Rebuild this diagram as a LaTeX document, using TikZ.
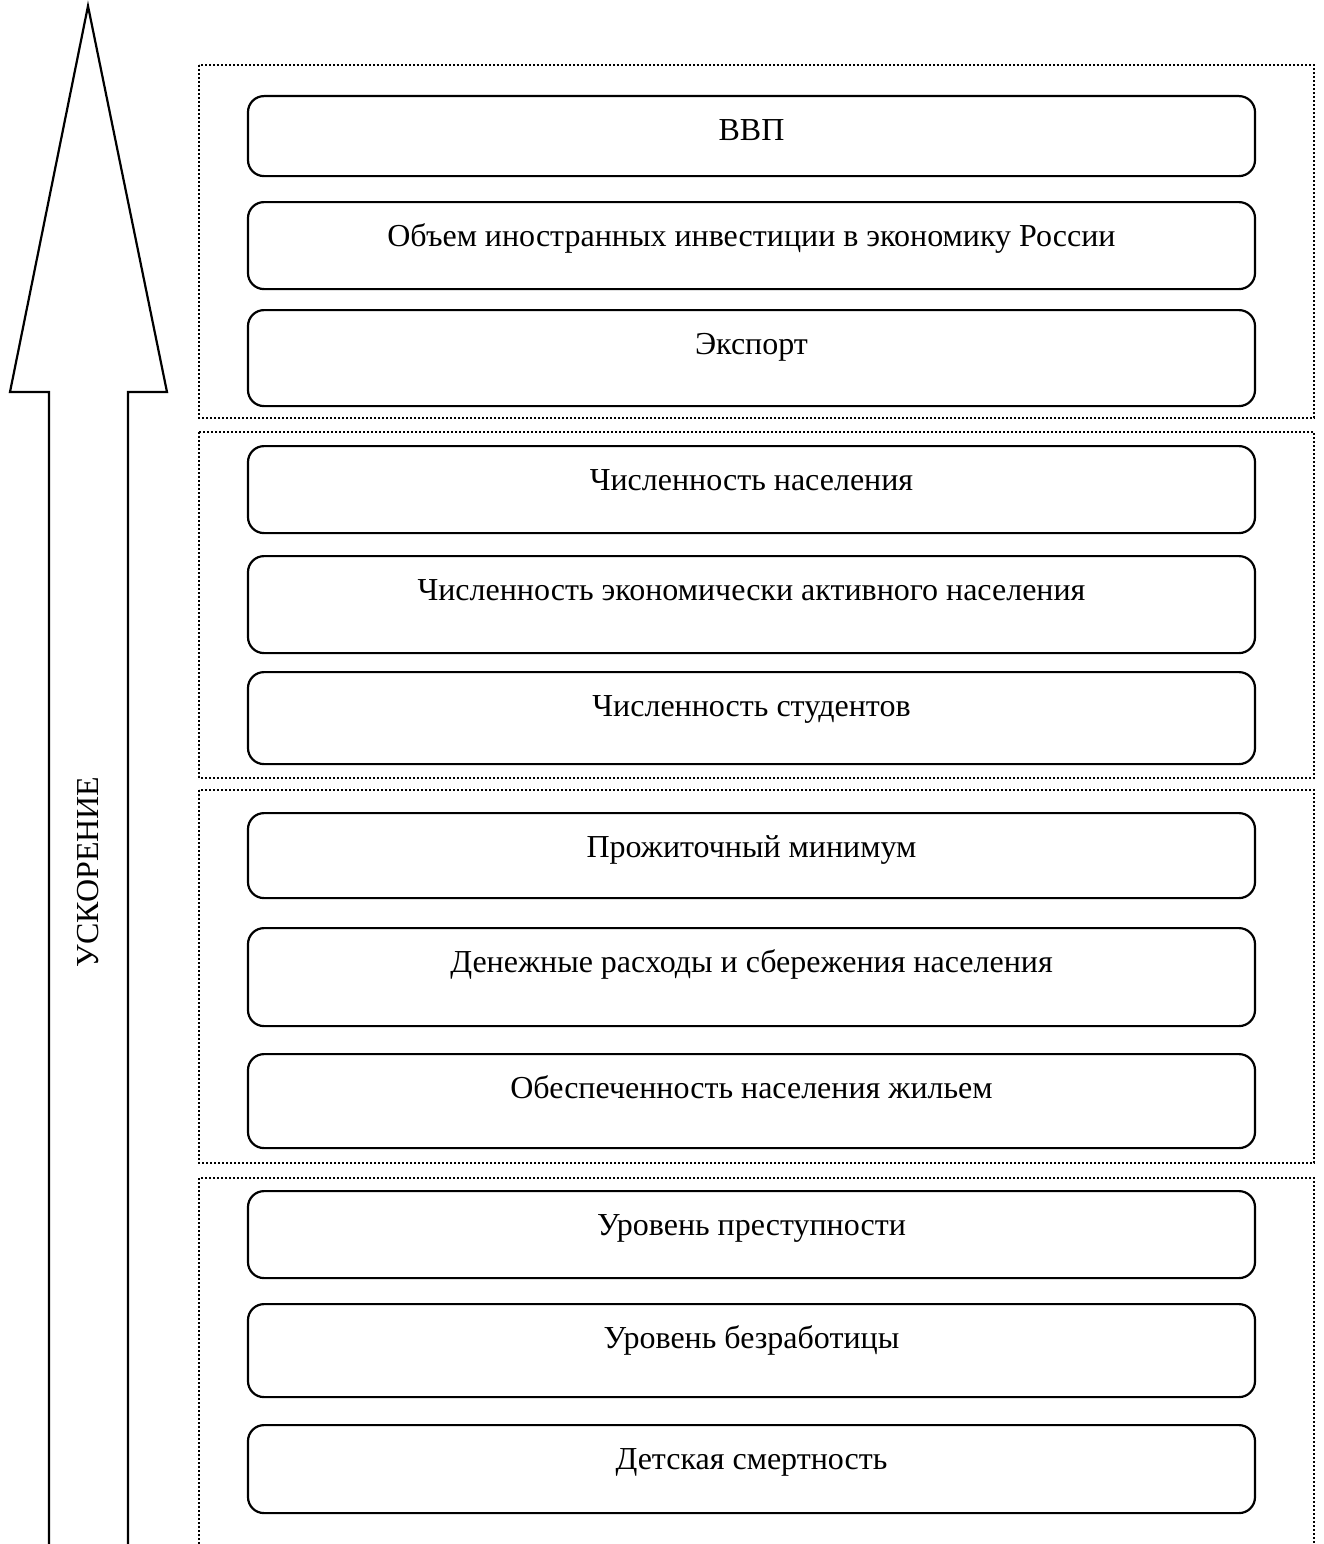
\documentclass[tikz,border=0pt]{standalone}
\usepackage{fontspec}
\setmainfont{Liberation Serif}
\usepackage{tikz}

\tikzset{
  item/.style={draw, line width=2.2pt, rounded corners=16pt, anchor=north,
    minimum width=1007pt, inner sep=0pt, text height=44pt},
  grp/.style={line width=2pt, dash pattern=on 2pt off 2pt},
  arr/.style={line width=2.2pt, line join=miter}
}

\begin{document}
\begin{tikzpicture}[x=1pt, y=-1pt, font=\fontsize{32}{37}\selectfont]
\useasboundingbox (0,0) rectangle (1323,1544);
% groups
\draw[grp] (199,65) rectangle (1314,418);
\draw[grp] (199,432) rectangle (1314,778);
\draw[grp] (199,790) rectangle (1314,1163);
\draw[grp] (199,1600) -- (199,1178) -- (1314,1178) -- (1314,1600);
% boxes
\node[item, text depth=36pt] (vvp) at (751.5,95) {ВВП};
\node[item, text depth=43pt] (invest) at (751.5,201) {Объем иностранных инвестиции в экономику России};
\node[item, text depth=52pt] (eksport) at (751.5,309) {Экспорт};
\node[item, text depth=43pt] (naselenie) at (751.5,445) {Численность населения};
\node[item, text depth=53pt] (aktivnye) at (751.5,555) {Численность экономически активного населения};
\node[item, text depth=48pt] (studenty) at (751.5,671) {Численность студентов};
\node[item, text depth=41pt] (minimum) at (751.5,812) {Прожиточный минимум};
\node[item, text depth=54pt] (raskhody) at (751.5,927) {Денежные расходы и сбережения населения};
\node[item, text depth=50pt] (zhilye) at (751.5,1053) {Обеспеченность населения жильем};
\node[item, text depth=43pt] (prestup) at (751.5,1190) {Уровень преступности};
\node[item, text depth=49pt] (bezrab) at (751.5,1303) {Уровень безработицы};
\node[item, text depth=44pt] (smertnost) at (751.5,1424) {Детская смертность};
% arrow
\draw[arr] (49,1600) -- (49,392) -- (10,392) -- (88,6) -- (167,392) -- (128,392) -- (128,1600);
\node[rotate=90] (uskorenie) at (88,872) {УСКОРЕНИЕ};
\end{tikzpicture}
\end{document}
